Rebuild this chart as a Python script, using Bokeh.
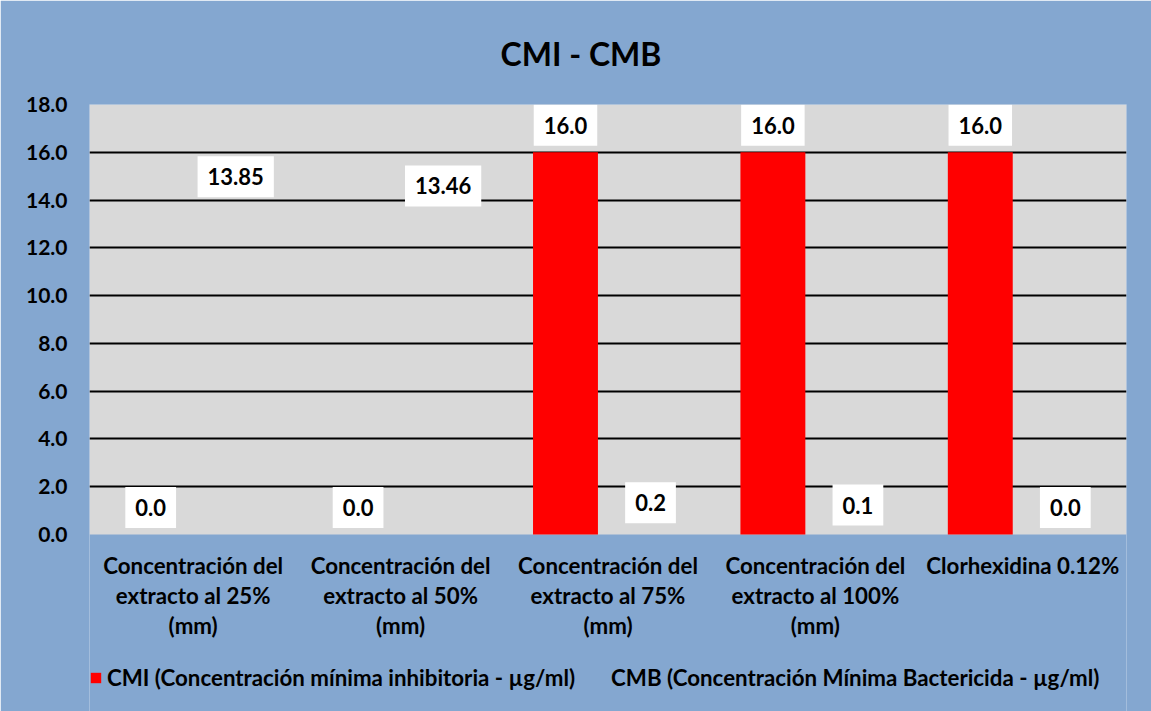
from bokeh.plotting import figure
from bokeh.models import (ColumnDataSource, FixedTicker, Legend, LegendItem)
from bokeh.core.properties import value
from bokeh.embed import file_html
from bokeh.resources import INLINE

categories = [
    "Concentración del\nextracto al 25%\n(mm)",
    "Concentración del\nextracto al 50%\n(mm)",
    "Concentración del\nextracto al 75%\n(mm)",
    "Concentración del\nextracto al 100%\n(mm)",
    "Clorhexidina 0.12%",
]
cmi = [0.0, 0.0, 16.0, 16.0, 16.0]
cmb = [13.85, 13.46, 0.2, 0.1, 0.0]
cmi_labels = ["0.0", "0.0", "16.0", "16.0", "16.0"]
cmb_labels = ["13.85", "13.46", "0.2", "0.1", "0.0"]
y_ticks = [0, 2, 4, 6, 8, 10, 12, 14, 16, 18]
title_text = "CMI - CMB"
cmi_name = "CMI (Concentración mínima inhibitoria - µg/ml)"
cmb_name = "CMB (Concentración Mínima Bactericida - µg/ml)"

FONT = "Lato"
FS = "22.3px"
BG = "#84A7D0"
PLOT_BG = "#D9D9D9"
RED = "#FF0000"

n = len(categories)
y_max = y_ticks[-1]
centers = [i + 0.5 for i in range(n)]
off = 0.205
bw = 0.313

# plot area is 430 px tall for 0..18; the frame continues 178 px below it
PLOT_PX = 430
BELOW_PX = 178
y_min = -BELOW_PX * y_max / PLOT_PX

src = ColumnDataSource(dict(
    xc=[c - off for c in centers], xb=[c + off for c in centers],
    cmi=cmi, cmb=cmb, cmi_l=cmi_labels, cmb_l=cmb_labels,
))
cat_src = ColumnDataSource(dict(x=centers, y=[0] * n, text=categories))

p = figure(frame_width=1037, frame_height=PLOT_PX + BELOW_PX,
           x_range=(0, n), y_range=(y_min, y_max),
           output_backend="svg", toolbar_location=None, x_axis_type=None,
           min_border_left=89, min_border_right=25, min_border_top=103,
           min_border_bottom=0, title=title_text)
p.background_fill_color = BG
p.border_fill_color = BG
p.outline_line_color = None

p.title.text_font = FONT
p.title.text_font_style = "bold"
p.title.text_font_size = "32px"
p.title.text_color = "black"
p.title.align = "left"
p.title.offset = 411
p.title.standoff = 63

# plot area (gray) from 0 to the top of the scale
p.quad(left=0, right=n, bottom=0, top=y_max, fill_color=PLOT_BG,
       line_color=None, level="image")

r1 = p.vbar(x="xc", top="cmi", width=bw, source=src, fill_color=RED,
            line_color=None)
r2 = p.vbar(x="xb", top="cmb", width=bw, source=src, fill_alpha=0,
            line_alpha=0)

for xcol, ycol, tcol in (("xc", "cmi", "cmi_l"), ("xb", "cmb", "cmb_l")):
    p.text(x=xcol, y=ycol, text=tcol, source=src, text_font=value(FONT),
           text_font_style="bold", text_font_size="22px", text_color="black",
           text_align="center", text_baseline="middle", y_offset=-27,
           background_fill_color="white", padding=(10, 12))

# category labels under the plot area
p.text(x="x", y="y", text="text", source=cat_src, text_font=value(FONT),
       text_font_style="bold", text_font_size=FS, text_color="black",
       text_align="center", text_baseline="top", y_offset=17,
       text_line_height=1.12)

p.yaxis.ticker = FixedTicker(ticks=y_ticks)
p.yaxis.major_label_overrides = {t: f"{t:.1f}" for t in y_ticks}
p.yaxis.axis_line_color = None
p.yaxis.major_tick_line_color = None
p.yaxis.minor_tick_line_color = None
p.yaxis.major_label_text_font = FONT
p.yaxis.major_label_text_font_style = "bold"
p.yaxis.major_label_text_font_size = "21px"
p.yaxis.major_label_text_color = "black"
p.yaxis.major_label_standoff = 16

p.xgrid.grid_line_color = None
p.ygrid.ticker = FixedTicker(ticks=y_ticks[1:])
p.ygrid.grid_line_color = "black"
p.ygrid.grid_line_width = 2

legend = Legend(items=[LegendItem(label=cmi_name, renderers=[r1]),
                       LegendItem(label=cmb_name, renderers=[r2])],
                orientation="horizontal", location=(0, 21),
                glyph_width=13, glyph_height=13, label_standoff=5, spacing=18,
                padding=0, margin=0, background_fill_alpha=0,
                border_line_color=None, label_text_font=FONT,
                label_text_font_style="bold", label_text_font_size=FS,
                label_text_color="black")
p.add_layout(legend)

open("out.html", "w").write(file_html(p, INLINE))
